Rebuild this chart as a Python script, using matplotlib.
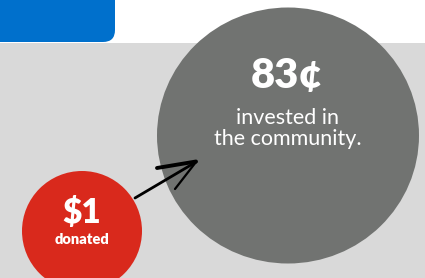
import matplotlib
matplotlib.use("Agg")
import matplotlib.pyplot as plt
from matplotlib.patches import Ellipse, Rectangle, FancyBboxPatch

# values shown in the graphic
amounts = ["$1", "83¢"]
captions = ["donated", "invested in\nthe community."]
bubble_colors = ["#d9291c", "#717371"]

plt.rcParams['font.family'] = ['Lato', 'DejaVu Sans']

fig = plt.figure(figsize=(4.25, 2.78), dpi=100)
ax = fig.add_axes([0, 0, 1, 1])
ax.set_xlim(0, 425)
ax.set_ylim(278, 0)
ax.axis('off')

# background
ax.add_patch(Rectangle((0, 0), 425, 43, facecolor='white', edgecolor='none'))
ax.add_patch(Rectangle((0, 43), 425, 240, facecolor='#d9d9d9', edgecolor='none'))
ax.add_patch(FancyBboxPatch((-40, -40), 143, 70, boxstyle="round,pad=12",
                            facecolor='#0070cc', edgecolor='none'))

# bubbles
ax.add_patch(Ellipse((288, 135.5), 262, 256, facecolor=bubble_colors[1], edgecolor='none'))
ax.add_patch(Ellipse((82, 231), 120, 120, facecolor=bubble_colors[0], edgecolor='none'))

# arrow (hand drawn look)
ax.plot([135, 196], [198, 162], color='black', lw=2, solid_capstyle='round')
ax.plot([157, 196], [168, 161.5], color='black', lw=2.8, solid_capstyle='round')
ax.plot([175, 196], [189, 162], color='black', lw=1.6, solid_capstyle='round')

# text
ax.text(287, 76, amounts[1], color='white', fontsize=30, fontweight='heavy',
        ha='center', va='center')
ax.text(288, 128.5, captions[1], color='white', fontsize=15.5, ha='center',
        va='center', linespacing=1.05)
ax.text(82, 213, amounts[0], color='white', fontsize=24, fontweight='heavy',
        ha='center', va='center')
ax.text(82, 240, captions[0], color='white', fontsize=10.5, fontweight='heavy',
        ha='center', va='center')

fig.savefig("out.png", dpi=100)
